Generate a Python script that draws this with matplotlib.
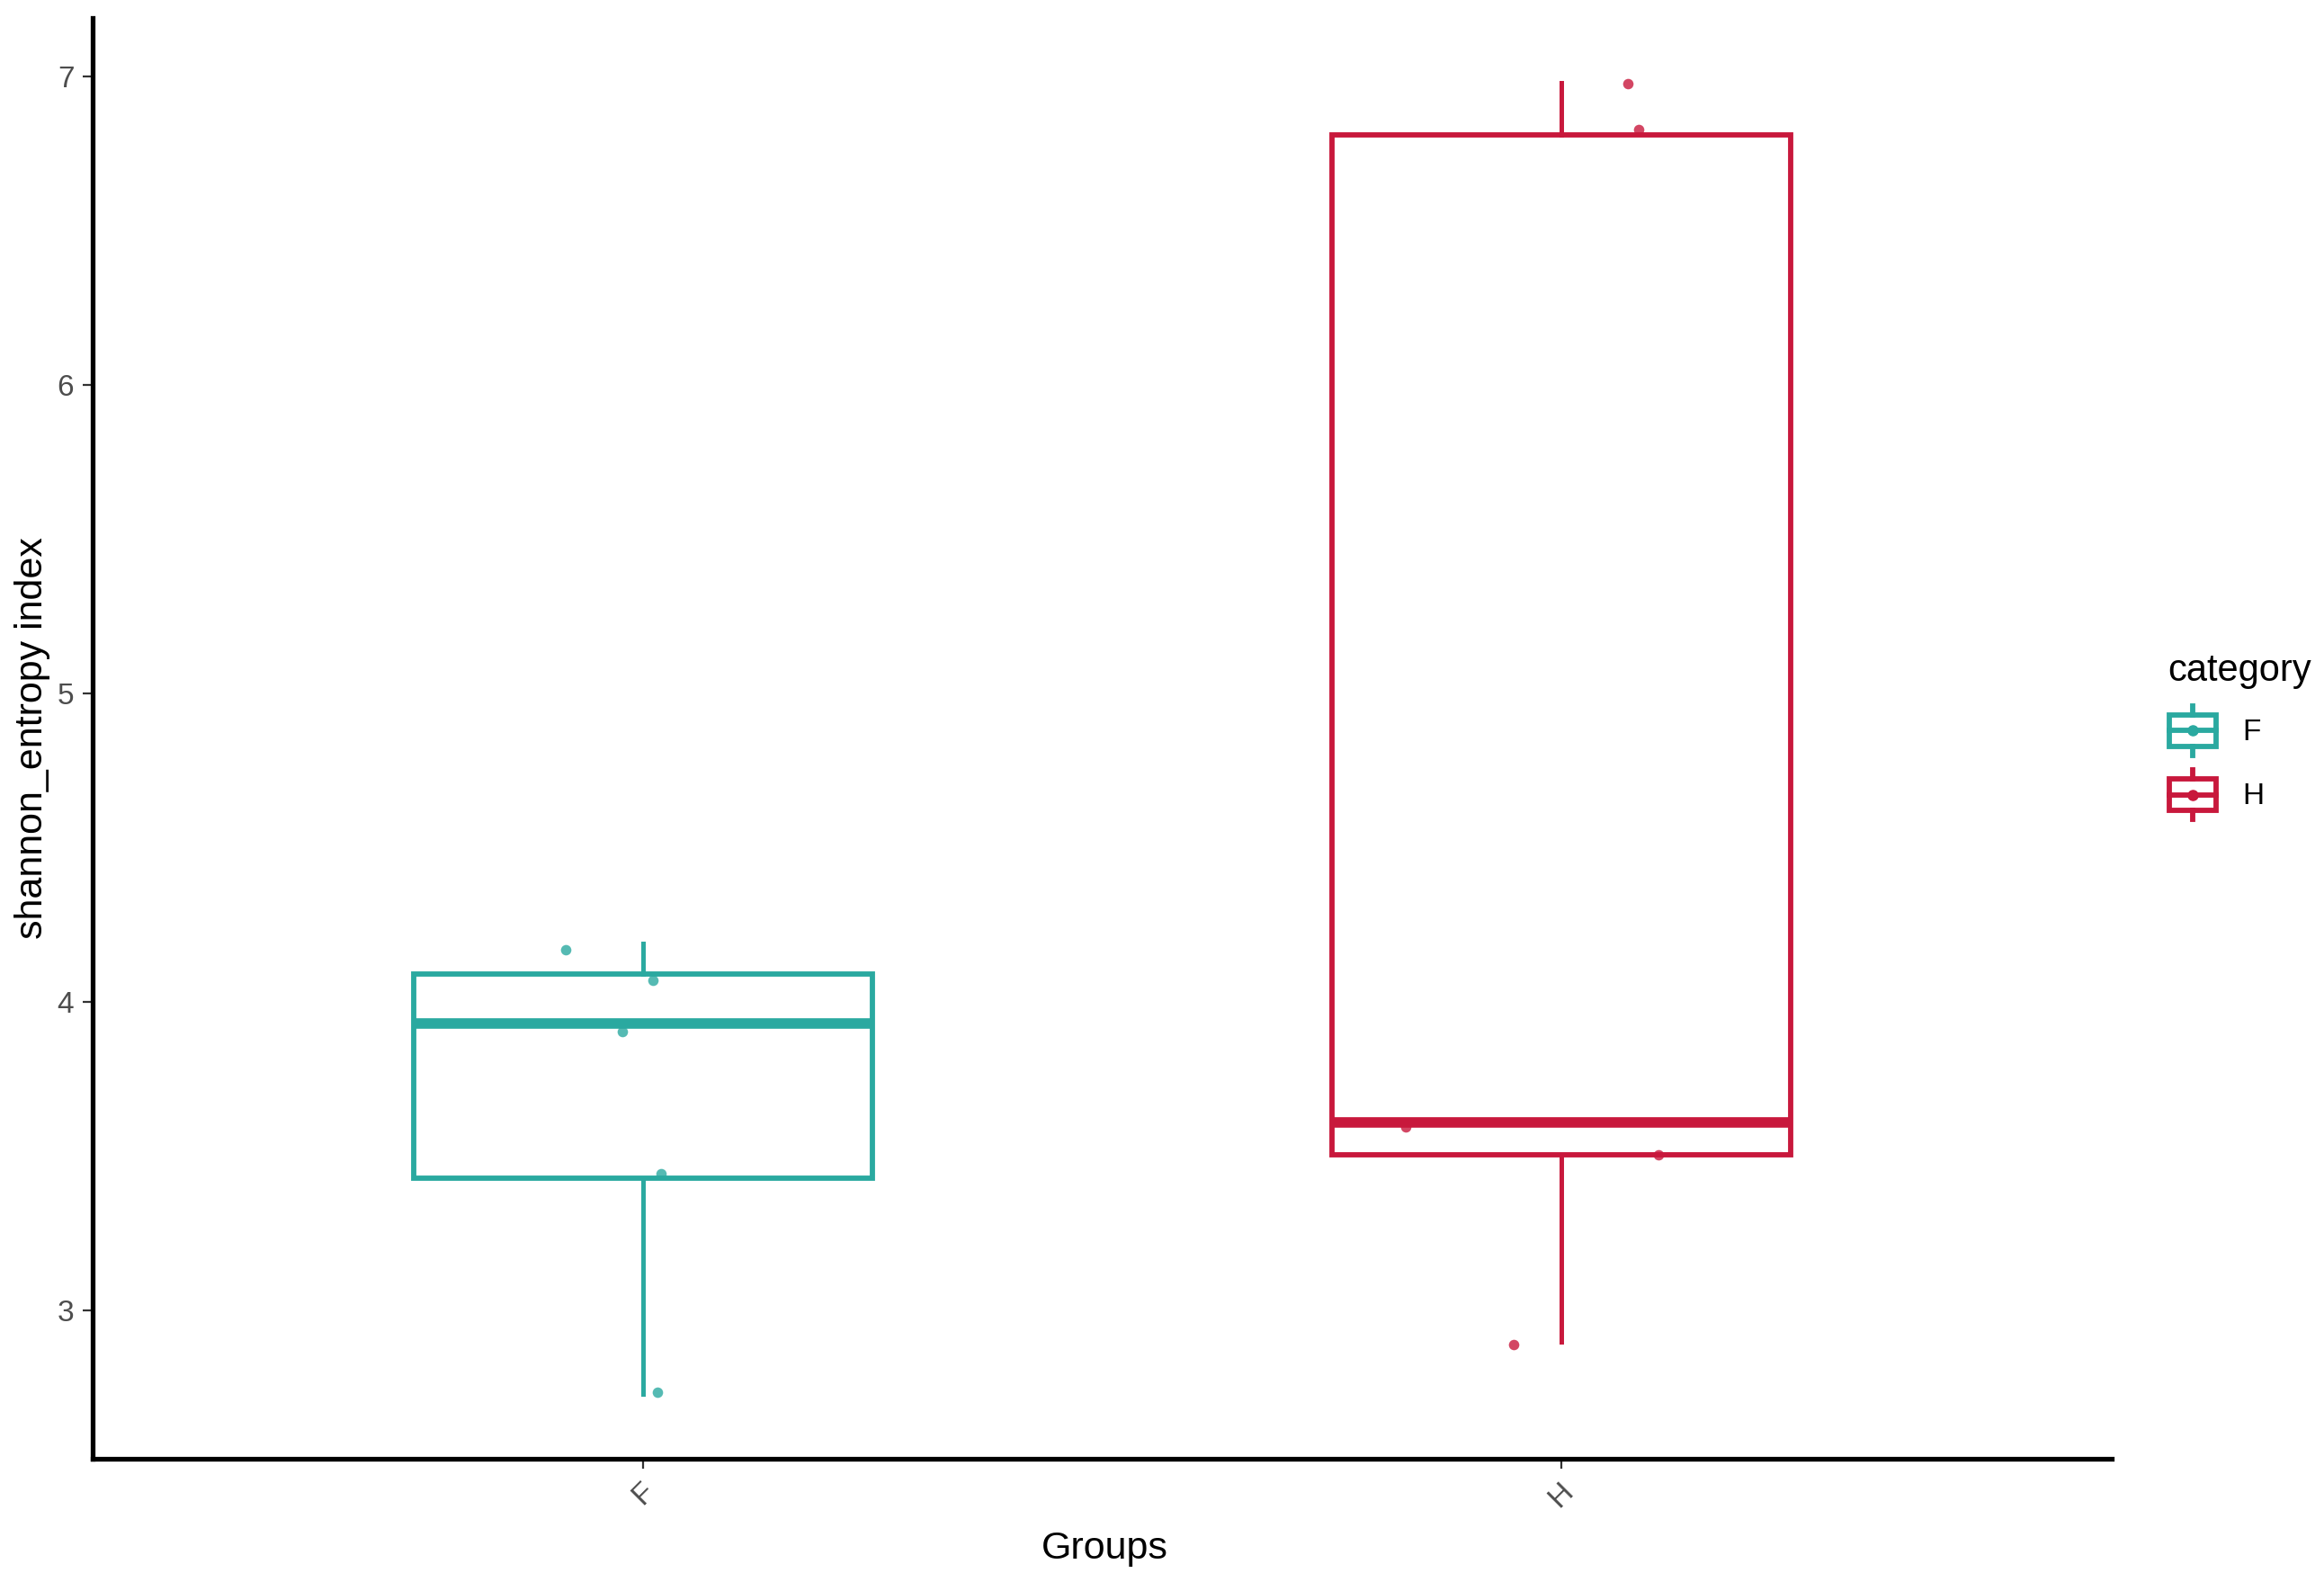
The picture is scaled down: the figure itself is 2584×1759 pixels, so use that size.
import matplotlib
matplotlib.use("Agg")
import matplotlib.pyplot as plt
from matplotlib.patches import Rectangle, Patch
from matplotlib.lines import Line2D
from matplotlib.legend_handler import HandlerBase

plt.rcParams['font.family'] = ['Liberation Sans', 'DejaVu Sans']

# data
groups = ['F', 'H']
f_values = [2.73, 3.43, 3.93, 4.09, 4.19]
h_values = [2.90, 3.506, 3.61, 6.81, 6.98]
# jittered points as drawn
f_points_y = [4.17, 4.07, 3.905, 3.443, 2.735]
f_points_dx = [-0.085, 0.010, -0.023, 0.019, 0.015]
h_points_y = [6.977, 6.83, 3.597, 3.506, 2.889]
h_points_dx = [0.073, 0.084, -0.169, 0.106, -0.052]
colors = ['#2AA9A0', '#C8183C']

BOX_LW = 4.2
MED_LW = 8.4


class BoxKeyHandler(HandlerBase):
    # draws a little boxplot glyph as legend key, like ggplot
    def create_artists(self, legend, orig_handle, xdescent, ydescent,
                       width, height, fontsize, trans):
        c = orig_handle.get_edgecolor()
        cx = width / 2 - xdescent
        cy = height / 2 - ydescent
        bw = fontsize * 1.55
        bh = fontsize * 1.05
        stub = fontsize * 0.3
        rect = Rectangle((cx - bw / 2, cy - bh / 2), bw, bh, fc='white',
                         ec=c, lw=BOX_LW, transform=trans)
        med = Line2D([cx - bw / 2, cx + bw / 2], [cy, cy], color=c,
                     lw=BOX_LW, transform=trans)
        top = Line2D([cx, cx], [cy + bh / 2, cy + bh / 2 + stub], color=c,
                     lw=BOX_LW, transform=trans)
        bot = Line2D([cx, cx], [cy - bh / 2, cy - bh / 2 - stub], color=c,
                     lw=BOX_LW, transform=trans)
        dot = Line2D([cx], [cy], marker='o', ms=8, color=c, lw=0,
                     transform=trans)
        return [rect, med, top, bot, dot]


fig = plt.figure(figsize=(25.84, 17.59), dpi=100)
ax = fig.add_axes([0.0399, 0.0779, 0.8688, 0.9107])

data = [f_values, h_values]
positions = [1, 2]
for i, vals in enumerate(data):
    c = colors[i]
    ax.boxplot([vals], positions=[positions[i]], widths=0.5, whis=(0, 100),
               showcaps=False, showfliers=False, patch_artist=True,
               boxprops=dict(facecolor='white', edgecolor=c, linewidth=BOX_LW),
               whiskerprops=dict(color=c, linewidth=BOX_LW * 0.85),
               medianprops=dict(color=c, linewidth=MED_LW, solid_capstyle='butt'),
               zorder=2)

pts = [(f_points_dx, f_points_y), (h_points_dx, h_points_y)]
for i, (dx, ys) in enumerate(pts):
    xs = [positions[i] + d for d in dx]
    ax.scatter(xs, ys, s=70, color=colors[i], alpha=0.8, lw=0, zorder=3)

ax.set_xlim(0.4, 2.6)
ax.set_ylim(2.52, 7.19)
ax.set_xticks(positions)
ax.set_xticklabels(groups, rotation=45, ha='center', va='top')
ax.set_yticks([3, 4, 5, 6, 7])

for s in ['top', 'right']:
    ax.spines[s].set_visible(False)
for s in ['left', 'bottom']:
    ax.spines[s].set_linewidth(3.8)
    ax.spines[s].set_color('black')

ax.tick_params(axis='both', length=8, width=1.6, color='#333333',
               labelsize=24, labelcolor='#4D4D4D', pad=7)

ax.set_xlabel('Groups', fontsize=31)
ax.set_ylabel('shannon_entropy index', fontsize=31)
ax.yaxis.set_label_coords(-0.021, 0.5)
ax.xaxis.set_label_coords(0.501, -0.050)

handles = [Patch(edgecolor=c, facecolor='white') for c in colors]
leg = fig.legend(handles, groups, title='category', loc='center left',
                 bbox_to_anchor=(0.921, 0.535), frameon=False, fontsize=24,
                 title_fontsize=30, handler_map={Patch: BoxKeyHandler()},
                 handlelength=1.7, handleheight=2.0, labelspacing=0.6,
                 handletextpad=0.8, alignment='left')

fig.savefig('out.png', dpi=100)
